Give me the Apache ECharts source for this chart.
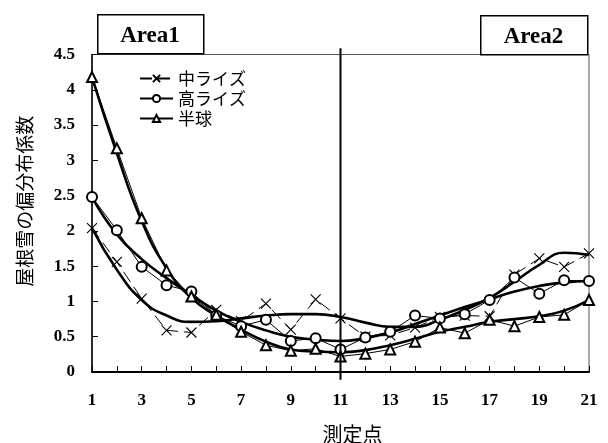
<!DOCTYPE html>
<html>
<head>
<meta charset="utf-8">
<script src="https://cdn.jsdelivr.net/npm/echarts@6/dist/echarts.min.js"></script>
<style>
html,body{margin:0;padding:0;background:#fff;}
#chart{width:608px;height:443px;}
</style>
</head>
<body>
<div id="chart"></div>
<script>
// measurement points
const points = [1,2,3,4,5,6,7,8,9,10,11,12,13,14,15,16,17,18,19,20,21];
const seriesNames = ['中ライズ','高ライズ','半球'];
// measured values
const midRise = [2.04,1.56,1.04,0.59,0.56,0.88,0.72,0.97,0.60,1.03,0.76,0.50,0.52,0.63,0.78,0.80,0.79,1.38,1.61,1.49,1.68];
const highRise = [2.48,2.01,1.49,1.23,1.14,0.80,0.65,0.74,0.44,0.48,0.32,0.49,0.57,0.80,0.76,0.82,1.02,1.34,1.11,1.30,1.29];
const hemisphere = [4.18,3.17,2.18,1.44,1.07,0.81,0.57,0.38,0.30,0.33,0.22,0.26,0.32,0.43,0.63,0.55,0.74,0.65,0.78,0.81,1.02];
// trend curves
const midRiseTrend = [2.04,1.45,1.02,0.80,0.71,0.72,0.76,0.80,0.82,0.82,0.78,0.70,0.64,0.64,0.74,0.88,1.05,1.28,1.52,1.69,1.66];
const highRiseTrend = [2.48,1.95,1.60,1.33,1.09,0.87,0.71,0.59,0.50,0.46,0.44,0.48,0.56,0.68,0.80,0.92,1.03,1.14,1.22,1.27,1.29];
const hemisphereTrend = [4.18,3.10,2.14,1.47,1.05,0.80,0.60,0.43,0.32,0.29,0.28,0.31,0.38,0.47,0.57,0.64,0.71,0.75,0.79,0.87,1.02];
// area divider at point 11
const dividerX = [11,11];
const dividerY = [-0.11,4.59];
const yTicks = ['0','0.5','1','1.5','2','2.5','3','3.5','4','4.5'];
const areaLabels = ['Area1','Area2'];

const pair = (arr) => points.map((x,i) => [x, arr[i]]);
const serif = 'Liberation Serif';
const jp = 'Noto Sans CJK JP';

const chart = echarts.init(document.getElementById('chart'), null, {renderer:'canvas'});
const thin = {color:'#000', width:1};
const thick = {color:'#000', width:2.6};

chart.setOption({
  animation:false,
  backgroundColor:'#fff',
  grid:{left:92, right:19, top:54.5, bottom:71, outerBoundsMode:'none', containLabel:false,
    show:true, borderColor:'#555', borderWidth:1, backgroundColor:'transparent'},
  legend:{
    data:seriesNames, orient:'vertical', left:139, top:70, padding:0,
    itemWidth:33, itemHeight:9, itemGap:3,
    textStyle:{fontFamily:jp, fontSize:17, color:'#000'},
    inactiveColor:'#000'
  },
  xAxis:{
    type:'value', min:1, max:21, interval:1,
    name:'測定点', nameLocation:'middle', nameGap:52,
    nameTextStyle:{fontFamily:jp, fontSize:20, color:'#000', padding:[0,0,0,24]},
    axisLine:{show:true, lineStyle:{color:'#000', width:2}},
    axisTick:{show:true, inside:true, length:6, lineStyle:{color:'#000', width:1}},
    axisLabel:{margin:20, fontFamily:serif, fontWeight:'bold', fontSize:17, color:'#000',
      formatter:(v)=> (v % 2 === 1 ? String(v) : '')},
    splitLine:{show:false}
  },
  yAxis:{
    type:'value', min:0, max:4.5, interval:0.5,
    name:'屋根雪の偏分布係数', nameLocation:'middle', nameGap:58, nameRotate:90,
    nameTextStyle:{fontFamily:jp, fontSize:19, color:'#000', padding:[0,0,0,24]},
    axisLine:{show:true, lineStyle:{color:'#000', width:1.5}},
    axisTick:{show:true, inside:true, length:6, lineStyle:{color:'#000', width:1}},
    axisLabel:{margin:17, fontFamily:serif, fontWeight:'bold', fontSize:17, color:'#000',
      formatter:(v)=> yTicks[Math.round(v*2)]},
    splitLine:{show:false}
  },
  graphic:[
    {type:'rect', left:97, top:14, shape:{width:106, height:39}, style:{fill:'#fff', stroke:'#000', lineWidth:1.5}, z:10},
    {type:'text', x:150, y:36, style:{text:areaLabels[0], font:'bold 23px "Liberation Serif"', fill:'#000', align:'center', verticalAlign:'middle'}, z:11},
    {type:'rect', left:480, top:15, shape:{width:107, height:39}, style:{fill:'#fff', stroke:'#000', lineWidth:1.5}, z:10},
    {type:'text', x:533.5, y:37, style:{text:areaLabels[1], font:'bold 23px "Liberation Serif"', fill:'#000', align:'center', verticalAlign:'middle'}, z:11}
  ],
  series:[
    {name:'中ライズ', type:'line', data:pair(midRise),
      symbol:'path://M0 0L10 10M10 0L0 10', symbolSize:10,
      itemStyle:{color:'#000', borderColor:'#000', borderWidth:1.1},
      lineStyle:{color:'#000', width:1, type:[12,6]}, z:3},
    {name:'高ライズ', type:'line', data:pair(highRise),
      symbol:'emptyCircle', symbolSize:10,
      itemStyle:{color:'#000', borderColor:'#000', borderWidth:1},
      lineStyle:thin, z:3},
    {name:'半球', type:'line', data:pair(hemisphere),
      symbol:'emptyTriangle', symbolSize:10,
      itemStyle:{color:'#000', borderColor:'#000', borderWidth:1},
      lineStyle:thin, z:3},
    {name:'trend1', type:'line', data:pair(midRiseTrend), smooth:0.5, symbol:'none', lineStyle:thick, z:2, silent:true},
    {name:'trend2', type:'line', data:pair(highRiseTrend), smooth:0.5, symbol:'none', lineStyle:thick, z:2, silent:true},
    {name:'trend3', type:'line', data:pair(hemisphereTrend), smooth:0.5, symbol:'none', lineStyle:thick, z:2, silent:true},
    {name:'divider', type:'line', data:dividerX.map((x,i)=>[x, dividerY[i]]), symbol:'none', clip:false,
      lineStyle:{color:'#000', width:2}, z:4, silent:true}
  ]
});
</script>
</body>
</html>
